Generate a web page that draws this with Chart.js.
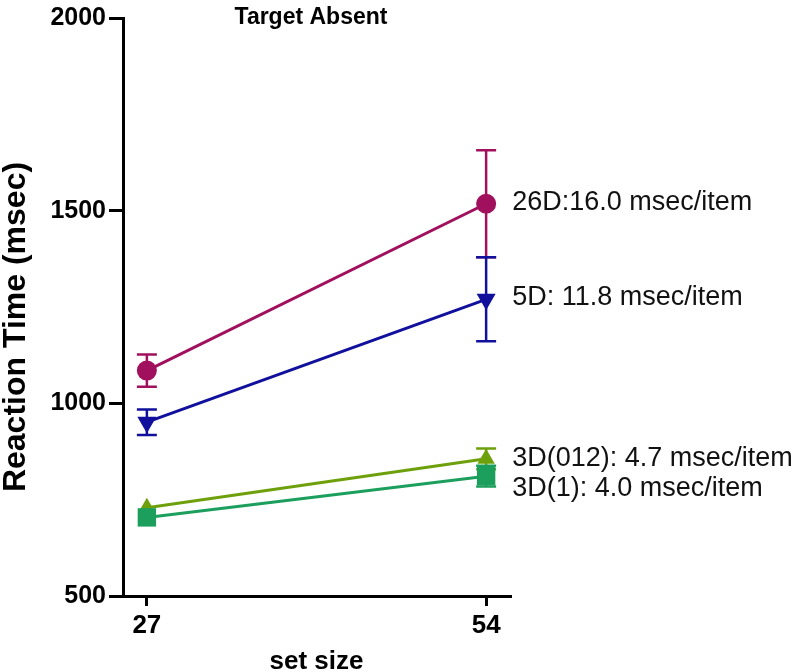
<!DOCTYPE html>
<html><head><meta charset="utf-8">
<script src="https://cdn.jsdelivr.net/npm/chart.js@4/dist/chart.umd.min.js"></script>
<style>html,body{margin:0;padding:0;background:#fff}#wrap{width:800px;height:672px;position:relative}</style>
</head><body><div id="wrap"><canvas id="c" width="800" height="672"></canvas></div>
<script>
const setSizes = [27, 54];
const xTicks = [27, 54];
const yTicks = [500, 1000, 1500, 2000];
const seriesNames = ['26D', '5D', '3D(012)', '3D(1)'];
const rt26D = [1085, 1518];
const err26D = [42, 139];
const rt5D = [951, 1270];
const err5D = [33, 109];
const rt3D012 = [729, 856];
const err3D012 = [0, 27];
const rt3D1 = [704, 811];
const err3D1 = [0, 27];
const slopeLabels = ['26D:16.0 msec/item', '5D: 11.8 msec/item', '3D(012): 4.7 msec/item', '3D(1): 4.0 msec/item'];
const chartTitle = 'Target Absent';
const yTitle = 'Reaction Time (msec)';
const xTitle = 'set size';

const FONT = '"Liberation Sans", Arial, Helvetica, sans-serif';
const colors = ['#a1105d', '#10109c', '#6ea00c', '#1c9f5c'];
const values = [rt26D, rt5D, rt3D012, rt3D1];
const errors = [err26D, err5D, err3D012, err3D1];
const styles = [
  {pointStyle: 'circle', radius: 10, rotation: 0},
  {pointStyle: 'triangle', radius: 11, rotation: 180},
  {pointStyle: 'triangle', radius: 10, rotation: 0},
  {pointStyle: 'rect', radius: 13, rotation: 0}
];
const labelDy = [6, 6, 7, 20];
const drawOrder = [3, 2, 1, 0];

const datasets = seriesNames.map((name, k) => ({
  label: name,
  data: setSizes.map((x, i) => ({x: x, y: values[k][i]})),
  borderColor: colors[k],
  backgroundColor: colors[k],
  pointBackgroundColor: colors[k],
  pointBorderColor: colors[k],
  borderWidth: 3,
  pointBorderWidth: 0,
  pointStyle: styles[k].pointStyle,
  pointRadius: styles[k].radius,
  pointRotation: styles[k].rotation,
  showLine: true,
  fill: false,
  tension: 0,
  order: drawOrder[k],
  errs: errors[k],
  slopeLabel: slopeLabels[k],
  labelDy: labelDy[k]
}));

const errorBars = {
  id: 'errorBars',
  beforeDatasetsDraw(chart) {
    const {ctx, scales: {x, y}} = chart;
    ctx.save();
    chart.data.datasets.forEach((ds) => {
      ctx.strokeStyle = ds.borderColor;
      ctx.lineWidth = 2.5;
      ds.data.forEach((p, i) => {
        const e = ds.errs[i];
        if (!e) return;
        const px = x.getPixelForValue(p.x);
        const yt = y.getPixelForValue(p.y + e);
        const yb = y.getPixelForValue(p.y - e);
        ctx.beginPath();
        ctx.moveTo(px, yt); ctx.lineTo(px, yb);
        ctx.moveTo(px - 10, yt); ctx.lineTo(px + 10, yt);
        ctx.moveTo(px - 10, yb); ctx.lineTo(px + 10, yb);
        ctx.stroke();
      });
    });
    ctx.restore();
  }
};

const textPlugin = {
  id: 'textPlugin',
  afterDraw(chart) {
    const {ctx, scales: {x, y}} = chart;
    ctx.save();
    ctx.fillStyle = '#111';
    ctx.font = '27px ' + FONT;
    ctx.textAlign = 'left';
    ctx.textBaseline = 'alphabetic';
    chart.data.datasets.forEach((ds) => {
      const last = ds.data[ds.data.length - 1];
      ctx.fillText(ds.slopeLabel, x.getPixelForValue(last.x) + 26, y.getPixelForValue(last.y) + ds.labelDy);
    });
    ctx.fillStyle = '#000';
    ctx.font = 'bold 23px ' + FONT;
    ctx.textAlign = 'center';
    ctx.textBaseline = 'middle';
    ctx.fillText(chartTitle, 311, 18);
    ctx.translate(16, 327);
    ctx.rotate(-Math.PI / 2);
    ctx.font = 'bold 32px ' + FONT;
    ctx.fillText(yTitle, 0, 0);
    ctx.restore();
  }
};

new Chart(document.getElementById('c'), {
  type: 'scatter',
  data: {datasets: datasets},
  options: {
    responsive: false,
    devicePixelRatio: 1,
    animation: false,
    layout: {autoPadding: false, padding: {left: 0, right: 290, top: 12, bottom: 0}},
    plugins: {legend: {display: false}, tooltip: {enabled: false}, title: {display: false}},
    scales: {
      x: {
        type: 'linear', min: 25.1, max: 55.9,
        afterBuildTicks: s => { s.ticks = xTicks.map(v => ({value: v})); },
        afterFit: s => { s.height = 76; },
        ticks: {font: {family: FONT, size: 26, weight: 'bold'}, color: '#000', padding: 4, maxRotation: 0, callback: v => String(v)},
        grid: {drawOnChartArea: false, drawTicks: true, tickLength: 10, color: '#000', lineWidth: 3},
        border: {display: true, color: '#000', width: 3},
        title: {display: true, text: xTitle, color: '#000', font: {family: FONT, size: 26, weight: 'bold', lineHeight: 0.8}, padding: 0}
      },
      y: {
        type: 'linear', min: 500, max: 2000,
        afterBuildTicks: s => { s.ticks = yTicks.map(v => ({value: v})); },
        afterFit: s => { s.width = 123; },
        ticks: {font: {family: FONT, size: 25, weight: 'bold'}, color: '#000', padding: 3, callback: v => String(v)},
        grid: {drawOnChartArea: false, drawTicks: true, tickLength: 14, color: '#000', lineWidth: 3},
        border: {display: true, color: '#000', width: 3}
      }
    }
  },
  plugins: [errorBars, textPlugin]
});
</script>
</body></html>
